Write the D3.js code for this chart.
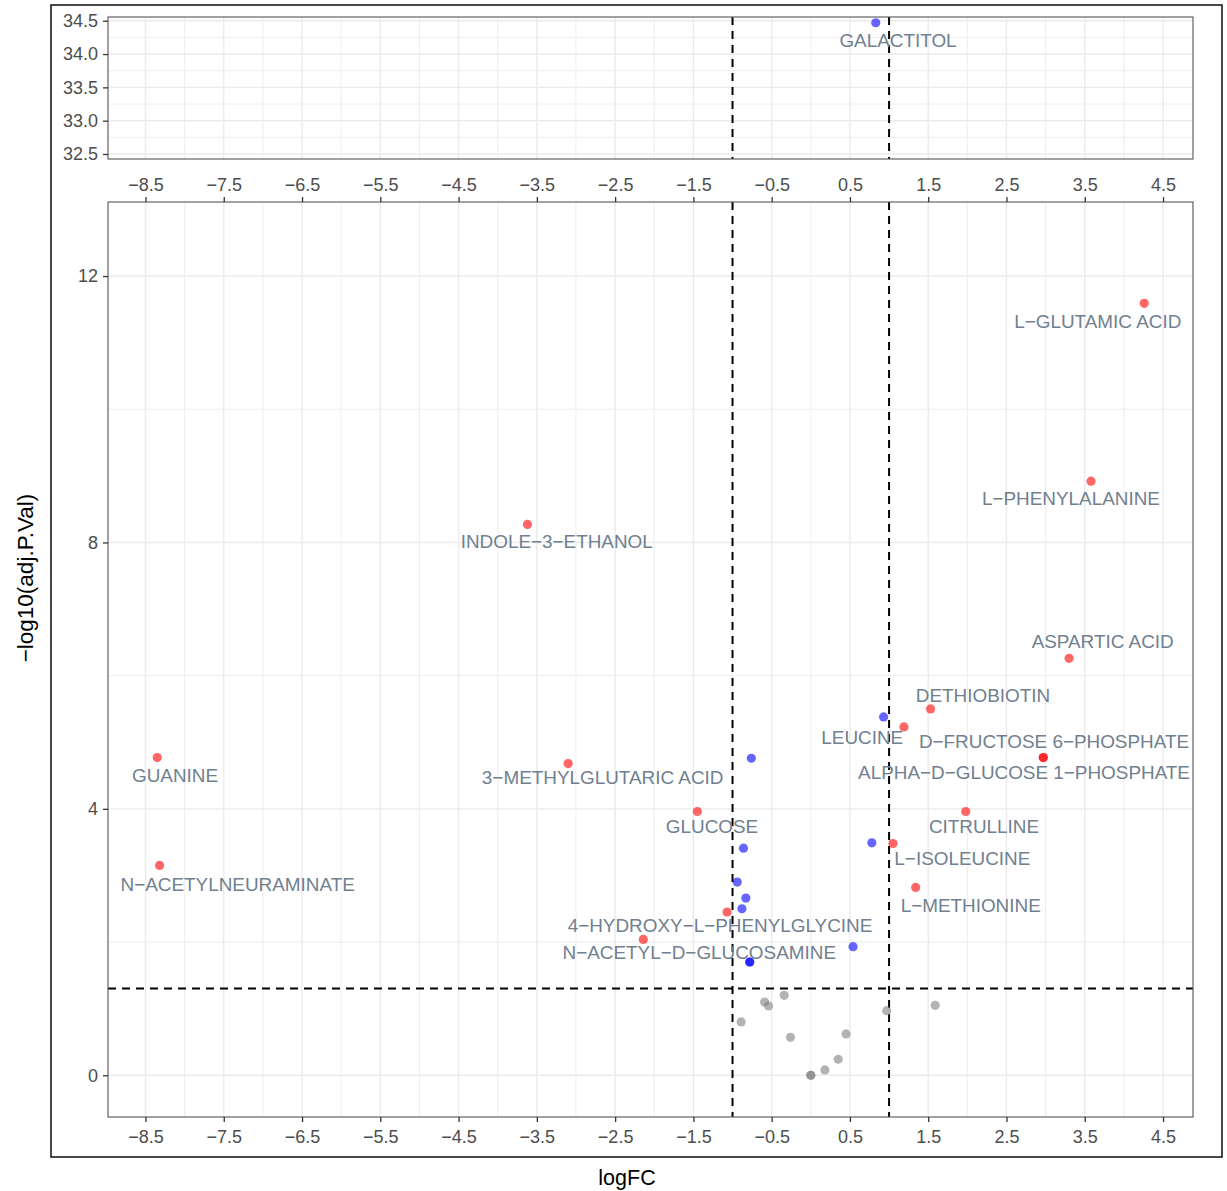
<!DOCTYPE html>
<html>
<head>
<meta charset="utf-8">
<script src="https://cdn.jsdelivr.net/npm/d3@7"></script>
<style>
  html, body { margin: 0; padding: 0; background: #ffffff; }
  svg { display: block; font-family: "Liberation Sans", Arial, Helvetica, sans-serif; }
</style>
</head>
<body>
<svg id="chart" width="1227" height="1191"></svg>
<script>
// ---------------- DATA ----------------
const xTickValues = [-8.5, -7.5, -6.5, -5.5, -4.5, -3.5, -2.5, -1.5, -0.5, 0.5, 1.5, 2.5, 3.5, 4.5];
const xMinorValues = [-8, -7, -6, -5, -4, -3, -2, -1, 0, 1, 2, 3, 4];
const yMainTicks = [0, 4, 8, 12];
const yMainMinor = [2, 6, 10];
const yTopTicks = [32.5, 33.0, 33.5, 34.0, 34.5];
const yTopMinor = [32.75, 33.25, 33.75, 34.25];

// metabolites: name, logFC, -log10(adj.P.Val), group
const names = [
  "GALACTITOL", "L-GLUTAMIC ACID", "L-PHENYLALANINE", "INDOLE-3-ETHANOL", "ASPARTIC ACID",
  "DETHIOBIOTIN", "LEUCINE", "", "D-FRUCTOSE 6-PHOSPHATE", "ALPHA-D-GLUCOSE 1-PHOSPHATE",
  "GUANINE", "", "3-METHYLGLUTARIC ACID", "GLUCOSE", "CITRULLINE",
  "", "L-ISOLEUCINE", "", "N-ACETYLNEURAMINATE", "L-METHIONINE",
  "", "", "4-HYDROXY-L-PHENYLGLYCINE", "N-ACETYL-D-GLUCOSAMINE", "",
  "", "",
  "", "", "", "", "", "", "", "", "", "", "", "", ""
];
const logFC = [
  0.83, 4.26, 3.58, -3.62, 3.30,
  1.53, 1.19, 0.93, 2.97, 2.97,
  -8.35, -0.76, -3.10, -1.45, 1.98,
  0.78, 1.05, -0.86, -8.32, 1.34,
  -0.94, -0.83, -1.07, -2.14, -0.88,
  0.54, -0.78,
  -0.78, -0.59, -0.54, -0.34, -0.89, -0.26, 0.45, 0.35, 0.18, 0.00, 0.00, 0.97, 1.59
];
const negLogP = [
  34.47, 11.59, 8.92, 8.27, 6.26,
  5.50, 5.23, 5.38, 4.77, 4.77,
  4.77, 4.76, 4.68, 3.96, 3.96,
  3.49, 3.48, 3.41, 3.15, 2.82,
  2.90, 2.66, 2.45, 2.04, 2.50,
  1.93, 1.70,
  1.70, 1.10, 1.04, 1.20, 0.80, 0.57, 0.62, 0.24, 0.08, 0.00, 0.00, 0.97, 1.05
];
const group = [
  "sig", "up", "up", "down", "up",
  "up", "up", "sig", "up", "up",
  "down", "sig", "down", "down", "up",
  "sig", "up", "sig", "down", "up",
  "sig", "sig", "down", "down", "sig",
  "sig", "sig",
  "sig", "ns", "ns", "ns", "ns", "ns", "ns", "ns", "ns", "ns", "ns", "ns", "ns"
];

// label positions (data units)
const labelNames = ["GALACTITOL", "L-GLUTAMIC ACID", "L-PHENYLALANINE", "INDOLE-3-ETHANOL", "ASPARTIC ACID",
  "DETHIOBIOTIN", "LEUCINE", "D-FRUCTOSE 6-PHOSPHATE", "ALPHA-D-GLUCOSE 1-PHOSPHATE", "GUANINE",
  "3-METHYLGLUTARIC ACID", "GLUCOSE", "CITRULLINE", "L-ISOLEUCINE", "L-METHIONINE",
  "N-ACETYLNEURAMINATE", "4-HYDROXY-L-PHENYLGLYCINE", "N-ACETYL-D-GLUCOSAMINE"];
const labelX = [1.114, 3.666, 3.324, -3.246, 3.729,
  2.200, 0.658, 3.107, 2.724, -8.122,
  -2.659, -1.262, 2.213, 1.936, 2.043,
  -7.322, -1.160, -1.425];
const labelY = [34.21, 11.315, 8.664, 8.012, 6.506,
  5.695, 5.075, 5.005, 4.550, 4.494,
  4.468, 3.728, 3.739, 3.248, 2.547,
  2.857, 2.242, 1.847];

const fcCut = [-1, 1];
const pCut = -Math.log10(0.05);
const gapLimit = 20; // values above this go in the upper panel

// ---------------- LAYOUT ----------------
const svg = d3.select("#chart");
const W = 1227, H = 1191;
const panelL = 108, panelR = 1193;
const topPanel = { t: 17, b: 159 };
const mainPanel = { t: 202, b: 1117 };

const x = d3.scaleLinear().domain([-8.979, 4.883]).range([panelL, panelR]);
const yMain = d3.scaleLinear().domain([-0.627, 13.112]).range([mainPanel.b, mainPanel.t]);
const yTop = d3.scaleLinear().domain([32.425, 34.556]).range([topPanel.b, topPanel.t]);

const gridCol = "#ebebeb";
const tickCol = "#333333";
const tickTextCol = "#4d4d4d";
const labelCol = "#708090";
const colors = { up: "#ff0000", down: "#ff0000", sig: "#0000ff", ns: "#808080" };

svg.append("rect").attr("width", W).attr("height", H).attr("fill", "#fff");

// outer frame
svg.append("rect").attr("x", 51).attr("y", 5).attr("width", 1171).attr("height", 1152)
  .attr("fill", "none").attr("stroke", "#1a1a1a").attr("stroke-width", 1.6);

function drawPanel(yScale, box, yMajor, yMinor) {
  const g = svg.append("g");
  g.append("rect").attr("x", panelL).attr("y", box.t).attr("width", panelR - panelL)
    .attr("height", box.b - box.t).attr("fill", "#fff");
  g.selectAll(".vmin").data(xMinorValues).enter().append("line")
    .attr("x1", d => x(d)).attr("x2", d => x(d)).attr("y1", box.t).attr("y2", box.b)
    .attr("stroke", gridCol).attr("stroke-width", 0.9);
  g.selectAll(".hmin").data(yMinor).enter().append("line")
    .attr("x1", panelL).attr("x2", panelR).attr("y1", d => yScale(d)).attr("y2", d => yScale(d))
    .attr("stroke", gridCol).attr("stroke-width", 0.9);
  g.selectAll(".vmaj").data(xTickValues).enter().append("line")
    .attr("x1", d => x(d)).attr("x2", d => x(d)).attr("y1", box.t).attr("y2", box.b)
    .attr("stroke", gridCol).attr("stroke-width", 1.4);
  g.selectAll(".hmaj").data(yMajor).enter().append("line")
    .attr("x1", panelL).attr("x2", panelR).attr("y1", d => yScale(d)).attr("y2", d => yScale(d))
    .attr("stroke", gridCol).attr("stroke-width", 1.4);
  g.selectAll(".vcut").data(fcCut).enter().append("line")
    .attr("x1", d => x(d)).attr("x2", d => x(d)).attr("y1", box.t).attr("y2", box.b)
    .attr("stroke", "#000").attr("stroke-width", 2).attr("stroke-dasharray", "8,6");
  return g;
}

const gTop = drawPanel(yTop, topPanel, yTopTicks, yTopMinor);
const gMain = drawPanel(yMain, mainPanel, yMainTicks, yMainMinor);

gMain.append("line").attr("x1", panelL).attr("x2", panelR)
  .attr("y1", yMain(pCut)).attr("y2", yMain(pCut))
  .attr("stroke", "#000").attr("stroke-width", 2).attr("stroke-dasharray", "8,6");

// points
const pts = logFC.map((v, i) => ({ name: names[i] || "", fc: v, p: negLogP[i], grp: group[i] }));
const order = { ns: 0, sig: 1, down: 2, up: 2 };
pts.sort((a, b) => order[a.grp] - order[b.grp]);

gMain.selectAll(".pt").data(pts.filter(d => d.p < gapLimit)).enter().append("circle")
  .attr("cx", d => x(d.fc)).attr("cy", d => yMain(d.p)).attr("r", 4.6)
  .attr("fill", d => colors[d.grp]).attr("fill-opacity", 0.6);
gTop.selectAll(".pt").data(pts.filter(d => d.p >= gapLimit)).enter().append("circle")
  .attr("cx", d => x(d.fc)).attr("cy", d => yTop(d.p)).attr("r", 4.6)
  .attr("fill", d => colors[d.grp]).attr("fill-opacity", 0.6);

// labels
const minus = s => s.replace(/-/g, "\u2212");
labelNames.forEach((n, i) => {
  const upper = labelY[i] >= gapLimit;
  const ys = upper ? yTop : yMain;
  svg.append("text").attr("x", x(labelX[i])).attr("y", ys(labelY[i]))
    .attr("text-anchor", "middle").attr("dominant-baseline", "central")
    .attr("font-size", 18.9).attr("fill", labelCol).text(minus(n));
});

// panel borders
[topPanel, mainPanel].forEach(b => {
  svg.append("rect").attr("x", panelL).attr("y", b.t).attr("width", panelR - panelL)
    .attr("height", b.b - b.t).attr("fill", "none").attr("stroke", "#555").attr("stroke-width", 1.1);
});

// axes
function styleAxis(g) {
  g.select(".domain").remove();
  g.selectAll(".tick line").attr("stroke", tickCol).attr("stroke-width", 1.3);
  g.selectAll(".tick text").attr("fill", tickTextCol).attr("font-size", 18)
    .attr("font-family", '"Liberation Sans", Arial, Helvetica, sans-serif');
}
const fmt1 = d3.format(".1f");

svg.append("g").attr("transform", `translate(0,${mainPanel.b})`)
  .call(d3.axisBottom(x).tickValues(xTickValues).tickFormat(fmt1).tickSize(5).tickPadding(8))
  .call(styleAxis);
svg.append("g").attr("transform", `translate(0,${mainPanel.t})`)
  .call(d3.axisTop(x).tickValues(xTickValues).tickFormat(fmt1).tickSize(5).tickPadding(6))
  .call(styleAxis);
svg.append("g").attr("transform", `translate(${panelL},0)`)
  .call(d3.axisLeft(yMain).tickValues(yMainTicks).tickFormat(d3.format("d")).tickSize(5).tickPadding(5))
  .call(styleAxis);
svg.append("g").attr("transform", `translate(${panelL},0)`)
  .call(d3.axisLeft(yTop).tickValues(yTopTicks).tickFormat(fmt1).tickSize(5).tickPadding(5))
  .call(styleAxis);

// axis titles
svg.append("text").attr("x", 627).attr("y", 1178).attr("text-anchor", "middle")
  .attr("dominant-baseline", "central").attr("font-size", 21.5).attr("fill", "#000").text("logFC");
svg.append("text").attr("transform", "translate(25,578) rotate(-90)").attr("text-anchor", "middle")
  .attr("dominant-baseline", "central").attr("font-size", 22.5).attr("fill", "#000").text("\u2212log10(adj.P.Val)");
</script>
</body>
</html>
